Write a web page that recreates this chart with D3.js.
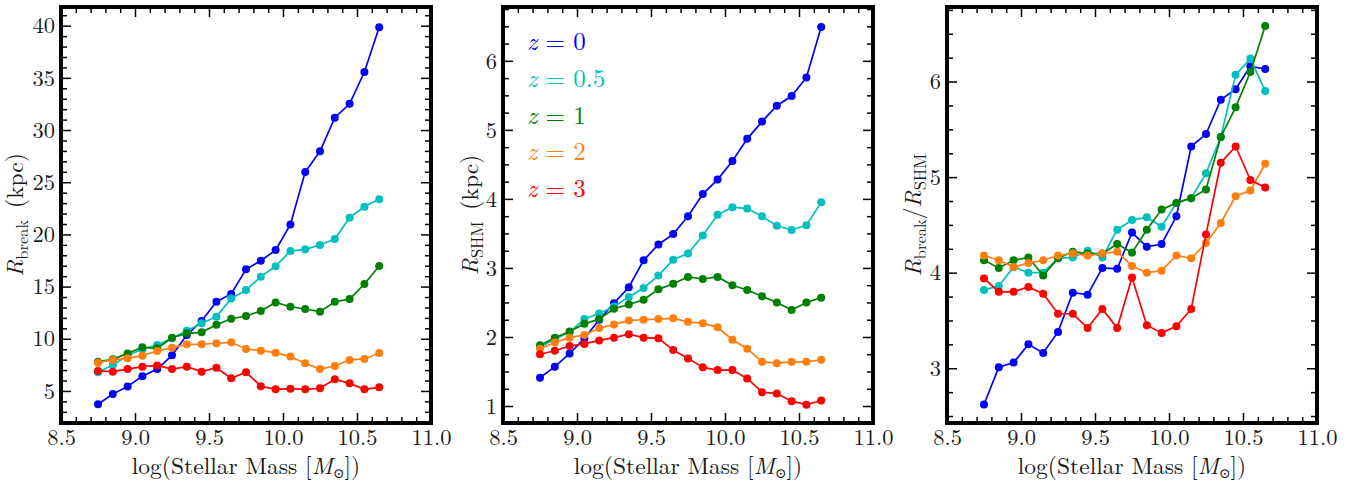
<!DOCTYPE html>
<html>
<head>
<meta charset="utf-8">
<script src="https://cdn.jsdelivr.net/npm/d3@7"></script>
<style>
  html, body { margin: 0; padding: 0; background: #fff; }
  svg { display: block; }
</style>
</head>
<body>
<svg id="chart" width="1363" height="484"></svg>
<script>
// ---------------- data ----------------
const massBins = [8.75, 8.85, 8.95, 9.05, 9.15, 9.25, 9.35, 9.45, 9.55, 9.65,
                  9.75, 9.85, 9.95, 10.05, 10.15, 10.25, 10.35, 10.45, 10.55, 10.65];
const redshiftLabels = ["0", "0.5", "1", "2", "3"];

// R_break (kpc)
const rBreakZ0  = [3.72, 4.71, 5.43, 6.42, 7.1, 8.41, 10.36, 11.7, 13.55, 14.3, 16.65, 17.48, 18.5, 20.96, 25.98, 27.96, 31.18, 32.52, 35.56, 39.85];
const rBreakZ05 = [6.79, 7.49, 8.4, 9.0, 9.41, 10.05, 10.78, 11.48, 12.12, 13.85, 14.67, 15.95, 16.95, 18.4, 18.57, 18.98, 19.55, 21.6, 22.65, 23.38];
const rBreakZ1  = [7.81, 8.03, 8.6, 9.18, 9.09, 10.1, 10.52, 10.62, 11.35, 11.92, 12.18, 12.66, 13.48, 13.07, 12.85, 12.6, 13.55, 13.8, 15.25, 16.97];
const rBreakZ2  = [7.71, 7.97, 8.13, 8.38, 8.83, 9.15, 9.47, 9.47, 9.57, 9.66, 9.02, 8.86, 8.67, 8.29, 7.65, 7.1, 7.39, 7.97, 8.07, 8.64];
const rBreakZ3  = [6.92, 6.85, 7.1, 7.33, 7.45, 7.1, 7.33, 6.85, 7.23, 6.21, 6.79, 5.46, 5.16, 5.22, 5.16, 5.26, 6.12, 5.73, 5.16, 5.35];

// R_SHM (kpc)
const rShmZ0  = [1.41, 1.57, 1.76, 1.98, 2.25, 2.49, 2.72, 3.11, 3.34, 3.49, 3.75, 4.07, 4.28, 4.55, 4.87, 5.12, 5.35, 5.49, 5.76, 6.49];
const rShmZ05 = [1.85, 1.97, 2.07, 2.26, 2.34, 2.44, 2.58, 2.71, 2.89, 3.12, 3.21, 3.47, 3.77, 3.88, 3.86, 3.75, 3.61, 3.55, 3.62, 3.95];
const rShmZ1  = [1.88, 1.99, 2.08, 2.19, 2.26, 2.41, 2.47, 2.54, 2.69, 2.77, 2.87, 2.84, 2.87, 2.75, 2.68, 2.59, 2.5, 2.39, 2.5, 2.57];
const rShmZ2  = [1.83, 1.92, 1.99, 2.03, 2.13, 2.18, 2.24, 2.25, 2.26, 2.27, 2.22, 2.2, 2.14, 1.96, 1.83, 1.64, 1.62, 1.64, 1.64, 1.67];
const rShmZ3  = [1.75, 1.8, 1.87, 1.9, 1.95, 1.99, 2.04, 1.99, 1.98, 1.81, 1.69, 1.56, 1.52, 1.52, 1.4, 1.2, 1.18, 1.07, 1.02, 1.08];

// R_break / R_SHM
const ratioZ0  = [2.62, 3.01, 3.06, 3.25, 3.16, 3.38, 3.79, 3.77, 4.05, 4.04, 4.42, 4.27, 4.3, 4.59, 5.32, 5.45, 5.81, 5.92, 6.16, 6.13];
const ratioZ05 = [3.82, 3.86, 4.06, 4.0, 4.0, 4.15, 4.16, 4.23, 4.16, 4.45, 4.55, 4.58, 4.48, 4.73, 4.78, 5.04, 5.42, 6.07, 6.24, 5.9];
const ratioZ1  = [4.13, 4.05, 4.13, 4.16, 3.97, 4.15, 4.22, 4.2, 4.2, 4.3, 4.21, 4.45, 4.66, 4.73, 4.78, 4.87, 5.42, 5.73, 6.1, 6.58];
const ratioZ2  = [4.18, 4.13, 4.06, 4.1, 4.13, 4.18, 4.2, 4.18, 4.2, 4.22, 4.07, 4.0, 4.02, 4.18, 4.15, 4.31, 4.52, 4.8, 4.86, 5.14];
const ratioZ3  = [3.94, 3.8, 3.8, 3.85, 3.78, 3.57, 3.57, 3.42, 3.62, 3.42, 3.95, 3.45, 3.37, 3.44, 3.62, 4.4, 5.15, 5.32, 4.97, 4.89];

// ticks
const xMajorTicks = [8.5, 9.0, 9.5, 10.0, 10.5, 11.0];
const yTicksBreak = [5, 10, 15, 20, 25, 30, 35, 40];
const yTicksShm   = [1, 2, 3, 4, 5, 6];
const yTicksRatio = [3, 4, 5, 6];

// ---------------- styles / layout ----------------
const FONT = "'Latin Modern Roman', 'Liberation Serif', serif";
const SYM_FONT = "'DejaVu Serif', 'Latin Modern Roman', serif";
const INK = "#1a1a1a";
const palette = ["#0000ff", "#00bfbf", "#008000", "#ff7f0e", "#ff0000"];
const plotTop = 7, plotBottom = 423, pw = 370;
const panelLefts = [61, 503, 947];
const yLabelOffsets = [38, 25, 26];

const svg = d3.select("#chart");

const panels = [
  { series: [rBreakZ0, rBreakZ05, rBreakZ1, rBreakZ2, rBreakZ3], ydom: [1.93, 41.79],
    major: yTicksBreak, minorStep: 1, label: "break" },
  { series: [rShmZ0, rShmZ05, rShmZ1, rShmZ2, rShmZ3], ydom: [0.754, 6.78],
    major: yTicksShm, minorStep: 0.25, label: "shm" },
  { series: [ratioZ0, ratioZ05, ratioZ1, ratioZ2, ratioZ3], ydom: [2.427, 6.78],
    major: yTicksRatio, minorStep: 0.25, label: "ratio" }
];

function rangeStep(a, b, s) {
  const out = [];
  const n = Math.round((b - a) / s);
  for (let i = 0; i <= n; i++) out.push(+(a + i * s).toFixed(6));
  return out;
}

const styleAxis = sel => {
  sel.select(".domain").remove();
  sel.selectAll(".tick line").attr("stroke", "#000").attr("stroke-width", 1.5);
  sel.selectAll("text").style("font-family", FONT).style("font-size", "22.5px").style("fill", INK);
};

panels.forEach((p, pi) => {
  const left = panelLefts[pi];
  const x = d3.scaleLinear().domain([8.5, 11.0]).range([left, left + pw]);
  const y = d3.scaleLinear().domain(p.ydom).range([plotBottom, plotTop]);

  const xMinor = rangeStep(8.5, 11.0, 0.1).filter(v => !xMajorTicks.some(m => Math.abs(m - v) < 1e-6));
  const yMinorAll = rangeStep(Math.ceil(p.ydom[0] / p.minorStep) * p.minorStep,
                              Math.floor(p.ydom[1] / p.minorStep) * p.minorStep, p.minorStep);
  const yMinor = yMinorAll.filter(v => !p.major.some(m => Math.abs(m - v) < 1e-6));

  const g = svg.append("g");

  g.append("g").attr("transform", `translate(0,${plotBottom})`)
    .call(d3.axisBottom(x).tickValues(xMajorTicks).tickFormat(d3.format(".1f")).tickSize(-10).tickPadding(6))
    .call(styleAxis);
  g.append("g").attr("transform", `translate(0,${plotBottom})`)
    .call(d3.axisBottom(x).tickValues(xMinor).tickFormat("").tickSize(-6)).call(styleAxis);
  g.append("g").attr("transform", `translate(0,${plotTop})`)
    .call(d3.axisTop(x).tickValues(xMajorTicks).tickFormat("").tickSize(-10)).call(styleAxis);
  g.append("g").attr("transform", `translate(0,${plotTop})`)
    .call(d3.axisTop(x).tickValues(xMinor).tickFormat("").tickSize(-6)).call(styleAxis);

  g.append("g").attr("transform", `translate(${left},0)`)
    .call(d3.axisLeft(y).tickValues(p.major).tickFormat(d3.format("d")).tickSize(-10).tickPadding(6))
    .call(styleAxis);
  g.append("g").attr("transform", `translate(${left},0)`)
    .call(d3.axisLeft(y).tickValues(yMinor).tickFormat("").tickSize(-6)).call(styleAxis);
  g.append("g").attr("transform", `translate(${left + pw},0)`)
    .call(d3.axisRight(y).tickValues(p.major).tickFormat("").tickSize(-10)).call(styleAxis);
  g.append("g").attr("transform", `translate(${left + pw},0)`)
    .call(d3.axisRight(y).tickValues(yMinor).tickFormat("").tickSize(-6)).call(styleAxis);

  const line = d3.line().x((d, i) => x(massBins[i])).y(d => y(d));
  p.series.forEach((vals, si) => {
    const sg = g.append("g");
    sg.append("path").datum(vals).attr("d", line)
      .attr("fill", "none").attr("stroke", palette[si]).attr("stroke-width", 1.7);
    sg.selectAll("circle").data(vals).join("circle")
      .attr("cx", (d, i) => x(massBins[i])).attr("cy", d => y(d)).attr("r", 4)
      .attr("fill", palette[si]);
  });

  g.append("rect").attr("x", left).attr("y", plotTop).attr("width", pw).attr("height", plotBottom - plotTop)
    .attr("fill", "none").attr("stroke", "#000").attr("stroke-width", 4);

  // x label
  const xl = g.append("text").attr("x", left + pw / 2).attr("y", 474)
    .attr("text-anchor", "middle")
    .style("font-family", FONT).style("font-size", "23.5px").style("fill", INK);
  xl.append("tspan").text("log(Stellar Mass [");
  xl.append("tspan").style("font-style", "italic").text("M");
  xl.append("tspan").style("font-size", "14px").style("font-family", SYM_FONT).attr("dy", 4).text("\u2299");
  xl.append("tspan").attr("dy", -4).text("])");

  // y label
  const yx = left - yLabelOffsets[pi];
  const yl = g.append("text").attr("transform", `translate(${yx},215) rotate(-90)`)
    .attr("text-anchor", "middle")
    .style("font-family", FONT).style("font-size", "23.5px").style("fill", INK);
  const sub = (t, txt) => t.append("tspan").style("font-size", "16.5px").attr("dy", 5).text(txt);
  if (p.label === "break") {
    yl.append("tspan").style("font-style", "italic").text("R");
    sub(yl, "break");
    yl.append("tspan").attr("dy", -5).text("\u2002(kpc)");
  } else if (p.label === "shm") {
    yl.append("tspan").style("font-style", "italic").text("R");
    sub(yl, "SHM");
    yl.append("tspan").attr("dy", -5).text("\u2002(kpc)");
  } else {
    yl.append("tspan").style("font-style", "italic").text("R");
    sub(yl, "break");
    yl.append("tspan").attr("dy", -5).text("/");
    yl.append("tspan").style("font-style", "italic").text("R");
    sub(yl, "SHM");
  }

  // legend
  if (p.label === "shm") {
    const baselines = [50, 87, 124, 160, 197];
    redshiftLabels.forEach((z, i) => {
      const t = g.append("text").attr("x", left + 24).attr("y", baselines[i])
        .style("font-family", FONT).style("font-size", "25px").style("fill", palette[i]);
      t.append("tspan").style("font-style", "italic").text("z");
      t.append("tspan").text(" = " + z);
    });
  }
});
</script>
</body>
</html>
